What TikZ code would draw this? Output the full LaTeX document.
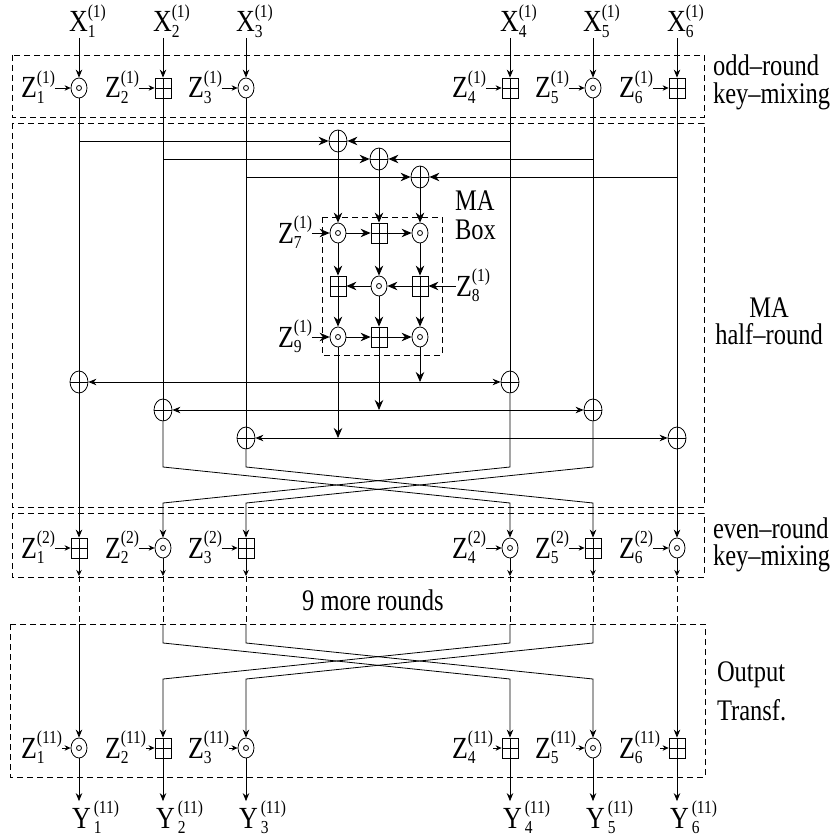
\documentclass[tikz,border=0pt]{standalone}
\usepackage{fontspec}
\setmainfont{Liberation Serif}
\usetikzlibrary{shapes.geometric,arrows.meta}
\newcommand{\vs}[1]{\scalebox{1}[1.22]{#1}}
\newcommand{\scr}{\fontsize{15.5}{15.5}\selectfont}
\newcommand{\lbl}[3]{\scalebox{1}[1.18]{#1\rlap{\raisebox{-5pt}{\scr #2}}\raisebox{12pt}{\scr #3}}}
\begin{document}
\begin{tikzpicture}[x=1pt,y=-1pt,
  lab/.style={font=\fontsize{26}{30}\selectfont, inner sep=0pt, outer sep=0pt},
  txt/.style={font=\fontsize{24.5}{28}\selectfont, inner sep=0pt, outer sep=0pt},
  ln/.style={line width=0.8pt},
  arr/.style={ln,-{Stealth[length=8pt,width=6.5pt]}},
  barr/.style={ln,-{Stealth[length=10pt,width=8.5pt]}},
  dbarr/.style={ln,{Stealth[length=8pt,width=6.5pt]}-{Stealth[length=8pt,width=6.5pt]}},
  zarr/.style={ln,-{Stealth[length=6pt,width=5.5pt]}},
  dbox/.style={ln,dash pattern=on 6pt off 4pt},
  odotn/.style={draw,ln,ellipse,minimum width=16pt,minimum height=20pt,inner sep=0pt,
     path picture={\draw[ln] (path picture bounding box.center) circle (2.5pt);}},
  bplus/.style={draw,ln,rectangle,minimum width=16pt,minimum height=20pt,inner sep=0pt,
     path picture={\draw[ln] (path picture bounding box.north)--(path picture bounding box.south)
        (path picture bounding box.west)--(path picture bounding box.east);}},
  xorn/.style={draw,ln,ellipse,minimum width=18pt,minimum height=22pt,inner sep=0pt,
     path picture={\draw[ln] (path picture bounding box.north)--(path picture bounding box.south)
        (path picture bounding box.west)--(path picture bounding box.east);}}
]
\useasboundingbox (0,0) rectangle (833,840);

% dashed frames
\draw[dbox] (12,55) rectangle (704,117);
\draw[dbox] (12,123) rectangle (704,507);
\draw[dbox] (12,513) rectangle (704,577);
\draw[dbox] (10,624) rectangle (705,777);
\draw[dbox] (322,217) rectangle (442,355);

% helper levels
\coordinate (cu) at (0,467); \coordinate (cl) at (0,503);
\coordinate (du) at (0,643); \coordinate (dl) at (0,679);
\coordinate (eb) at (0,576); \coordinate (ot) at (0,624);

% round 1
\foreach \i/\x/\s in {1/79/odotn,2/163/bplus,3/246/odotn,4/510/bplus,5/593/odotn,6/677/bplus}{
  \node[\s] (ra\i) at (\x,88) {};
  \node[lab,anchor=base west] (xa\i) at (\x-10,32) {\lbl{X}{\i}{(1)}};
  \node[lab,anchor=base west] (za\i) at (\x-58,98) {\lbl{Z}{\i}{(1)}};
  \draw[arr] (xa\i.south -| ra\i) -- (ra\i);
  \draw[zarr] (za\i.east |- ra\i) -- (ra\i);
}

% MA half-round: top XORs
\node[xorn] (xt1) at (338,141) {};
\node[xorn] (xt2) at (379,159) {};
\node[xorn] (xt3) at (420,177) {};
\coordinate (j1) at (79,141);  \coordinate (k1) at (510,141);
\coordinate (j2) at (163,159); \coordinate (k2) at (593,159);
\coordinate (j3) at (246,177); \coordinate (k3) at (677,177);
\draw[barr] (j1) -- (xt1); \draw[barr] (k1) -- (xt1);
\draw[barr] (j2) -- (xt2); \draw[barr] (k2) -- (xt2);
\draw[barr] (j3) -- (xt3); \draw[barr] (k3) -- (xt3);

% MA box
\node[odotn] (a1) at (338,233) {};
\node[bplus] (a2) at (379,233) {};
\node[odotn] (a3) at (420,233) {};
\node[bplus] (b1) at (338,286) {};
\node[odotn] (b2) at (379,286) {};
\node[bplus] (b3) at (420,286) {};
\node[odotn] (c1) at (338,337) {};
\node[bplus] (c2) at (379,337) {};
\node[odotn] (c3) at (420,337) {};
\draw[barr] (xt1) -- (a1); \draw[barr] (xt2) -- (a2); \draw[barr] (xt3) -- (a3);
\draw[barr] (a1) -- (a2); \draw[barr] (a2) -- (a3);
\draw[barr] (a1) -- (b1); \draw[barr] (a2) -- (b2); \draw[barr] (a3) -- (b3);
\draw[barr] (b3) -- (b2); \draw[barr] (b2) -- (b1);
\draw[barr] (b1) -- (c1); \draw[barr] (b2) -- (c2); \draw[barr] (b3) -- (c3);
\draw[barr] (c1) -- (c2); \draw[barr] (c2) -- (c3);
\node[lab,anchor=base west] (z7) at (278,243) {\lbl{Z}{7}{(1)}};
\node[lab,anchor=base west] (z8) at (456,296) {\lbl{Z}{8}{(1)}};
\node[lab,anchor=base west] (z9) at (278,347) {\lbl{Z}{9}{(1)}};
\draw[barr] (z7.east |- a1) -- (a1);
\draw[barr] (z8.west |- b3) -- (b3);
\draw[barr] (z9.east |- c1) -- (c1);
\node[txt,anchor=base west] (mab1) at (455,210) {\vs{MA}};
\node[txt,anchor=base west] (mab2) at (455,239) {\vs{Box}};

% bottom XORs
\node[xorn] (xl1) at (79,382) {};
\node[xorn] (xl4) at (510,382) {};
\node[xorn] (xl2) at (163,410) {};
\node[xorn] (xl5) at (593,410) {};
\node[xorn] (xl3) at (246,438) {};
\node[xorn] (xl6) at (677,438) {};
\foreach \i in {1,...,6}{ \draw[ln] (ra\i) -- (xl\i); }
\coordinate (o1) at (420,382);
\coordinate (o2) at (379,410);
\coordinate (o3) at (338,438);
\draw[barr] (c3) -- (o1); \draw[barr] (c2) -- (o2); \draw[barr] (c1) -- (o3);
\draw[dbarr] (xl1) -- (xl4);
\draw[dbarr] (xl2) -- (xl5);
\draw[dbarr] (xl3) -- (xl6);

% round 2
\foreach \i/\x/\s in {1/79/bplus,2/163/odotn,3/246/bplus,4/510/odotn,5/593/bplus,6/677/odotn}{
  \node[\s] (rb\i) at (\x,548) {};
  \node[lab,anchor=base west] (zb\i) at (\x-58,558) {\lbl{Z}{\i}{(2)}};
  \draw[zarr] (zb\i.east |- rb\i) -- (rb\i);
  \draw[zarr] (rb\i) -- (rb\i |- eb);
  \draw[dbox] (rb\i |- eb) -- (rb\i |- ot);
}
\draw[arr] (xl1) -- (rb1);
\draw[arr] (xl2) -- (xl2 |- cu) -- (rb4 |- cl) -- (rb4);
\draw[arr] (xl3) -- (xl3 |- cu) -- (rb5 |- cl) -- (rb5);
\draw[arr] (xl4) -- (xl4 |- cu) -- (rb2 |- cl) -- (rb2);
\draw[arr] (xl5) -- (xl5 |- cu) -- (rb3 |- cl) -- (rb3);
\draw[arr] (xl6) -- (rb6);

\node[txt] (more) at (373,600) {\vs{9 more rounds}};

% output transformation
\foreach \i/\x/\s in {1/79/odotn,2/163/bplus,3/246/odotn,4/510/bplus,5/593/odotn,6/677/bplus}{
  \node[\s] (rc\i) at (\x,748) {};
  \node[lab,anchor=base west] (zc\i) at (\x-58,758) {\lbl{Z}{\i}{(11)}};
  \draw[zarr] (zc\i.east |- rc\i) -- (rc\i);
  \node[lab,anchor=base west] (y\i) at (\x-7,828) {\lbl{Y\kern3pt}{\i}{(11)}};
  \draw[arr] (rc\i) -- (y\i.north -| rc\i);
}
\draw[arr] (rb1 |- ot) -- (rc1);
\draw[arr] (rb2 |- ot) -- (rb2 |- du) -- (rc4 |- dl) -- (rc4);
\draw[arr] (rb3 |- ot) -- (rb3 |- du) -- (rc5 |- dl) -- (rc5);
\draw[arr] (rb4 |- ot) -- (rb4 |- du) -- (rc2 |- dl) -- (rc2);
\draw[arr] (rb5 |- ot) -- (rb5 |- du) -- (rc3 |- dl) -- (rc3);
\draw[arr] (rb6 |- ot) -- (rc6);

% side labels
\node[txt,anchor=base west] (l1a) at (713,76) {\vs{odd--round}};
\node[txt,anchor=base west] (l1b) at (713,104) {\vs{key--mixing}};
\node[txt,anchor=base] (l2a) at (769,317) {\vs{MA}};
\node[txt,anchor=base] (l2b) at (769,344) {\vs{half--round}};
\node[txt,anchor=base west] (l3a) at (713,538) {\vs{even--round}};
\node[txt,anchor=base west] (l3b) at (713,565) {\vs{key--mixing}};
\node[txt,anchor=base west] (l4a) at (717,681) {\vs{Output}};
\node[txt,anchor=base west] (l4b) at (717,720) {\vs{Transf.}};
\end{tikzpicture}
\end{document}
